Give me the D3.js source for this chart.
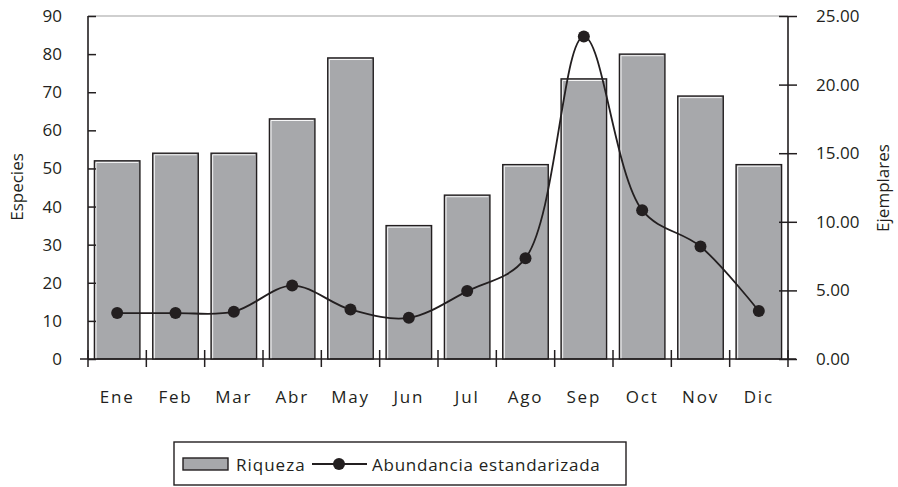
<!DOCTYPE html>
<html><head><meta charset="utf-8">
<script src="https://cdn.jsdelivr.net/npm/d3@7"></script>
<style>
html,body{margin:0;padding:0;background:#fff;}
text{font-family:"Open Sans","Noto Sans",sans-serif;fill:#231f20;}
</style></head>
<body>
<script>
const months = ["Ene","Feb","Mar","Abr","May","Jun","Jul","Ago","Sep","Oct","Nov","Dic"];
const riqueza = [52,54,54,63,79,35,43,51,73.5,80,69,51];
const abundancia = [3.35,3.35,3.45,5.35,3.6,3.0,4.95,7.35,23.5,10.85,8.2,3.5];
const leftTicks = [0,10,20,30,40,50,60,70,80,90];
const rightTicks = [0,5,10,15,20,25];

const W = 898, H = 487;
const m = {l:88, r:788, t:16, b:359};
const svg = d3.select("body").append("svg").attr("width",W).attr("height",H);

const x = d3.scaleBand().domain(months).range([m.l,m.r]).paddingInner(0.22).paddingOuter(0.11);
const yL = d3.scaleLinear().domain([0,90]).range([m.b,m.t]);
const yR = d3.scaleLinear().domain([0,25]).range([m.b,m.t]);

// top border
svg.append("line").attr("x1",m.l).attr("x2",m.r).attr("y1",m.t).attr("y2",m.t)
  .attr("stroke","#a0a0a0").attr("stroke-width",1.2);

// bars
const bars = svg.append("g");
bars.selectAll("rect.bar").data(months).join("rect").attr("class","bar")
  .attr("x",d=>x(d)).attr("width",x.bandwidth())
  .attr("y",(d,i)=>yL(riqueza[i])).attr("height",(d,i)=>m.b-yL(riqueza[i]))
  .attr("fill","#a7a8ab").attr("stroke","#231f20").attr("stroke-width",1.4);
bars.selectAll("path.hl").data(months).join("path").attr("class","hl")
  .attr("d",(d,i)=>{const x0=x(d)+1.6, y0=yL(riqueza[i])+1.6; return `M${x0},${m.b}V${y0}H${x(d)+x.bandwidth()-1.6}`;})
  .attr("fill","none").attr("stroke","#ffffff").attr("stroke-width",0.9);

// axes
const gL = svg.append("g").attr("transform",`translate(${m.l},0)`)
  .call(d3.axisLeft(yL).tickValues(leftTicks).tickSize(8).tickPadding(18).tickFormat(d3.format("d")));
gL.selectAll(".tick line").attr("x2",8);
const gR = svg.append("g").attr("transform",`translate(${m.r},0)`)
  .call(d3.axisRight(yR).tickValues(rightTicks).tickSize(9).tickPadding(19).tickFormat(d3.format(".2f")));
gR.selectAll(".tick line").attr("x2",9).attr("x1",-9);
const bandEdges = months.map(d=>x(d)-x.step()*x.paddingInner()/2).concat([m.r]);
svg.append("g").selectAll("line").data(bandEdges).join("line")
  .attr("x1",d=>d).attr("x2",d=>d).attr("y1",m.b-9).attr("y2",m.b+8)
  .attr("stroke","#231f20").attr("stroke-width",1.5);
svg.append("line").attr("x1",m.l-8).attr("x2",m.r+8).attr("y1",m.b).attr("y2",m.b)
  .attr("stroke","#231f20").attr("stroke-width",1.6);
[gL,gR].forEach(g=>{
  g.select(".domain").attr("stroke","#231f20").attr("stroke-width",1.6);
  g.selectAll(".tick line").attr("stroke","#231f20").attr("stroke-width",1.5);
  g.selectAll("text").style("font-size","17px").attr("fill","#231f20");
});
gL.select(".domain").attr("d",`M0,${m.t}V${m.b}`);
gR.select(".domain").attr("d",`M0,${m.t}V${m.b}`);

// month labels
svg.append("g").selectAll("text").data(months).join("text")
  .attr("x",d=>x(d)+x.bandwidth()/2).attr("y",403)
  .attr("text-anchor","middle").style("font-size","17px").style("letter-spacing","1.8px")
  .text(d=>d);

// axis titles
svg.append("text").attr("transform","translate(23,187) rotate(-90)")
  .attr("text-anchor","middle").style("font-size","17px").text("Especies");
svg.append("text").attr("transform","translate(889,188) rotate(-90)")
  .attr("text-anchor","middle").style("font-size","17px").text("Ejemplares");

// line
const line = d3.line().x((d,i)=>x(months[i])+x.bandwidth()/2).y(d=>yR(d)).curve(d3.curveCatmullRom.alpha(0.5));
svg.append("path").datum(abundancia).attr("d",line).attr("fill","none")
  .attr("stroke","#231f20").attr("stroke-width",1.8);
svg.append("g").selectAll("circle").data(abundancia).join("circle")
  .attr("cx",(d,i)=>x(months[i])+x.bandwidth()/2).attr("cy",d=>yR(d)).attr("r",6)
  .attr("fill","#231f20");

// legend
const lg = svg.append("g");
lg.append("rect").attr("x",174).attr("y",442).attr("width",452).attr("height",43)
  .attr("fill","#fff").attr("stroke","#231f20").attr("stroke-width",1.4);
lg.append("rect").attr("x",183).attr("y",458).attr("width",45).attr("height",12)
  .attr("fill","#a7a8ab").attr("stroke","#231f20").attr("stroke-width",1.4);
lg.append("text").attr("x",236).attr("y",471).style("font-size","17px").style("letter-spacing","1px").text("Riqueza");
lg.append("line").attr("x1",312).attr("x2",367).attr("y1",464).attr("y2",464)
  .attr("stroke","#231f20").attr("stroke-width",1.8);
lg.append("circle").attr("cx",339).attr("cy",464).attr("r",6).attr("fill","#231f20");
lg.append("text").attr("x",372).attr("y",471).style("font-size","17px").style("letter-spacing","0.75px").text("Abundancia estandarizada");
</script>
</body></html>
